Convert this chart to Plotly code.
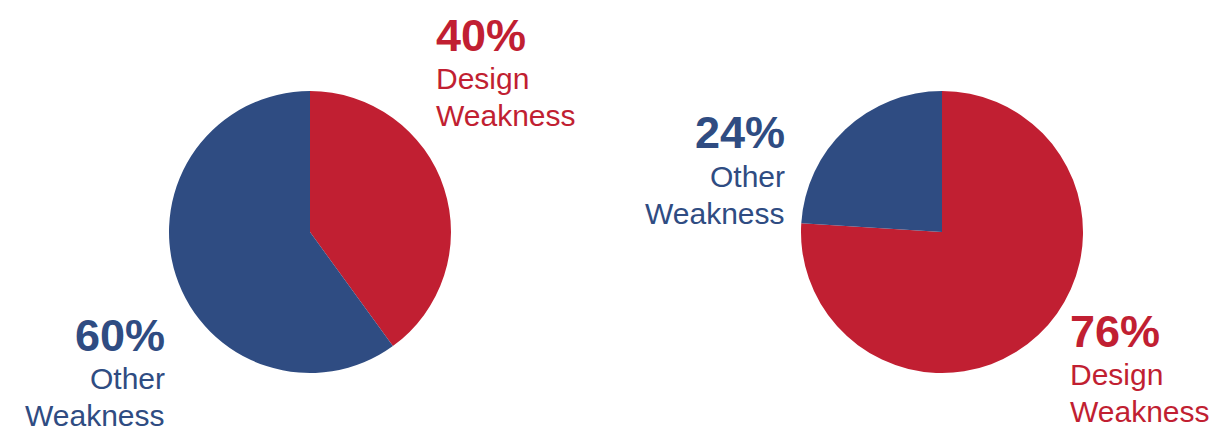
import plotly.graph_objects as go

W, H = 1213, 434

categories = ["Design Weakness", "Other Weakness"]
left_values = [40, 60]
right_values = [76, 24]
colors = ["#C11F32", "#2F4C82"]

def px(x):
    return x / W

def py(y):
    return 1 - y / H

fig = go.Figure()

r = 141
for cx, vals in [(310, left_values), (942, right_values)]:
    cy = 232
    fig.add_trace(go.Pie(
        labels=categories, values=vals, sort=False, direction="clockwise",
        rotation=0, marker=dict(colors=colors, line=dict(width=0)),
        textinfo="none", hoverinfo="label+percent", showlegend=False,
        domain=dict(x=[px(cx - r), px(cx + r)], y=[py(cy + r), py(cy - r)]),
    ))

FONT = "Liberation Sans, Arial, sans-serif"

def label(x, ytop, pct, line1, line2, color, anchor):
    fig.add_annotation(x=px(x), y=py(ytop), xref="paper", yref="paper",
                       text=f"<b>{pct}%</b>", showarrow=False, xanchor=anchor,
                       yanchor="middle", font=dict(family=FONT, size=45, color=color))
    fig.add_annotation(x=px(x), y=py(ytop + 43), xref="paper", yref="paper",
                       text=line1, showarrow=False, xanchor=anchor,
                       yanchor="middle", font=dict(family=FONT, size=30, color=color))
    fig.add_annotation(x=px(x), y=py(ytop + 80), xref="paper", yref="paper",
                       text=line2, showarrow=False, xanchor=anchor,
                       yanchor="middle", font=dict(family=FONT, size=30, color=color))

label(434, 36, left_values[0], "Design", "Weakness", colors[0], "left")
label(167, 335, left_values[1], "Other", "Weakness", colors[1], "right")
label(787, 133, right_values[1], "Other", "Weakness", colors[1], "right")
label(1068, 331, right_values[0], "Design", "Weakness", colors[0], "left")

fig.update_layout(width=W, height=H, margin=dict(l=0, r=0, t=0, b=0),
                  paper_bgcolor="white", plot_bgcolor="white")

fig.write_html("out.html")
